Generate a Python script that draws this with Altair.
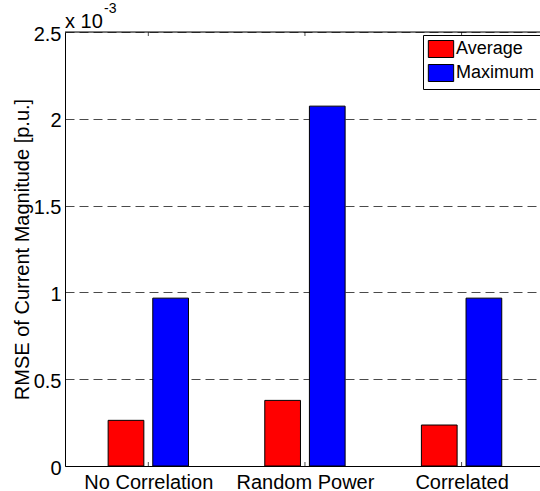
import altair as alt
import pandas as pd

# Grouped bar chart: RMSE of current magnitude for three sampling cases
categories = ["No Correlation", "Random Power", "Correlated"]
series = ["Average", "Maximum"]
average_rmse = [0.263, 0.378, 0.236]   # x 1e-3 p.u.
maximum_rmse = [0.967, 2.073, 0.967]   # x 1e-3 p.u.
y_ticks = [0, 0.5, 1, 1.5, 2, 2.5]
series_colors = ["#ff0000", "#0000ff"]
y_title = "RMSE of Current Magnitude [p.u.]"
exp_base = "x 10"
exp_power = "-3"

FONT = "Liberation Sans"
BAR_W = 0.228      # bar width in category units
GROUP_OFF = 0.1425  # offset of each bar centre from the category centre
X_MIN = 0.5
X_MAX = 0.5 + 475 / 160

rows = []
for i, cat in enumerate(categories, start=1):
    for s, vals, sign in ((series[0], average_rmse, -1), (series[1], maximum_rmse, 1)):
        c = i + sign * GROUP_OFF
        rows.append({"category": cat, "idx": i, "series": s, "value": vals[i - 1],
                     "x0": c - BAR_W / 2, "x1": c + BAR_W / 2})
df = pd.DataFrame(rows)
cat_df = pd.DataFrame({"idx": list(range(1, len(categories) + 1)), "category": categories})

label_expr = "[''," + ",".join(f"'{c}'" for c in categories) + "][datum.value]"

x_scale = alt.Scale(domain=[X_MIN, X_MAX], nice=False, zero=False)
y_scale = alt.Scale(domain=[0, 2.5], nice=False)

bars = alt.Chart(df).mark_bar(stroke="black", strokeWidth=1, orient="vertical").encode(
    x=alt.X("x0:Q", scale=x_scale,
            axis=alt.Axis(values=[1, 2, 3], labelExpr=label_expr, grid=False, ticks=False,
                          domainColor="black", domainWidth=1, labelFontSize=20,
                          labelFont=FONT, labelColor="black", labelPadding=6, title=None,
                          labelFlush=False)),
    x2="x1:Q",
    y=alt.Y("value:Q", scale=y_scale,
            axis=alt.Axis(values=y_ticks, format="~g", grid=True, gridDash=[9, 5],
                          gridColor="#4a4a4a", gridWidth=1, ticks=False,
                          domainColor="black", domainWidth=1,
                          labelFontSize=20, labelFont=FONT, labelColor="black",
                          labelPadding=4, labelFlush=False, labelOffset=2,
                          title=y_title, titleFontSize=20, titleFont=FONT,
                          titleFontWeight="normal", titleColor="black",
                          titleX=-43, titleY=217, titleAngle=-90,
                          titleAlign="center", titleBaseline="middle")),
    y2=alt.datum(0),
    color=alt.Color("series:N", scale=alt.Scale(domain=series, range=series_colors),
                    legend=alt.Legend(orient="none", legendX=358, legendY=3, title=None,
                                      symbolType="M-1.49,-1H1.49V1H-1.49Z", symbolSize=289,
                                      symbolOffset=4,
                                      symbolStrokeColor="black", symbolStrokeWidth=1,
                                      symbolOpacity=1,
                                      labelFontSize=18, labelFont=FONT, labelColor="black",
                                      labelOffset=6, padding=5, rowPadding=2,
                                      strokeColor="black", fillColor="white")),
)

# top border of the axes box
top_border = alt.Chart(pd.DataFrame({"y": [2.5]})).mark_rule(color="black", strokeWidth=1).encode(
    y=alt.Y("y:Q", scale=y_scale)
)

# small inward ticks at each category on the bottom and top edges
bottom_ticks = alt.Chart(cat_df).mark_tick(orient="vertical", size=4, thickness=1,
                                           color="black", yOffset=-2).encode(
    x=alt.X("idx:Q", scale=x_scale), y=alt.datum(0)
)
top_ticks = alt.Chart(cat_df).mark_tick(orient="vertical", size=4, thickness=1,
                                        color="black", yOffset=2).encode(
    x=alt.X("idx:Q", scale=x_scale), y=alt.datum(2.5)
)

# exponent multiplier above the y axis
exp_a = alt.Chart(pd.DataFrame({"t": [exp_base]})).mark_text(
    align="left", baseline="alphabetic", fontSize=20, font=FONT, color="black"
).encode(text="t:N", x=alt.value(0), y=alt.value(-4))
exp_b = alt.Chart(pd.DataFrame({"t": [exp_power]})).mark_text(
    align="left", baseline="alphabetic", fontSize=14, font=FONT, color="black"
).encode(text="t:N", x=alt.value(39), y=alt.value(-19))

chart = alt.layer(bars, top_border, bottom_ticks, top_ticks, exp_a, exp_b).properties(
    width=475, height=434,
    padding={"left": 65, "top": 32, "right": 0, "bottom": 25},
    autosize=alt.AutoSizeParams(type="none"),
).configure_view(stroke=None).configure(background="white")

chart.save("out.html", embed_options={"renderer": "svg", "actions": False})
